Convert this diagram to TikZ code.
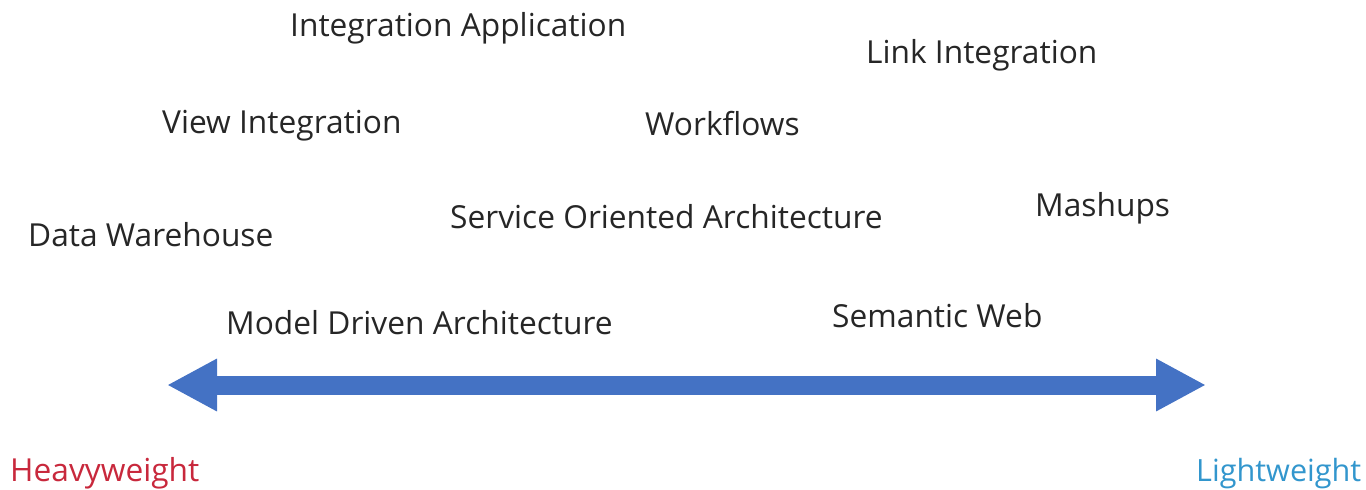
\documentclass[tikz,border=0pt]{standalone}
\usepackage{fontspec}
\setmainfont{Open Sans}
\usetikzlibrary{arrows.meta}
\definecolor{arrowblue}{RGB}{68,114,196}
\definecolor{heavyred}{RGB}{200,40,60}
\definecolor{lightblue}{RGB}{50,150,205}
\tikzset{
  lbl/.style={anchor=base west, inner sep=0pt, font=\fontsize{31.7}{36}\selectfont, text=black!85},
  endlbl/.style={lbl},
}
\begin{document}
\begin{tikzpicture}[x=1pt,y=-1pt]
\useasboundingbox (0,0) rectangle (1366,490);
\node[lbl] (ia) at (290,36) {Integration Application};
\node[lbl] (li) at (866,63) {Link Integration};
\node[lbl] (vi) at (162,133) {View Integration};
\node[lbl] (wf) at (645,135) {Workflows};
\node[lbl] (dw) at (28,246) {Data Warehouse};
\node[lbl] (soa) at (450,228) {Service Oriented Architecture};
\node[lbl] (mu) at (1035,216) {Mashups};
\node[lbl] (mda) at (226,334) {Model Driven Architecture};
\node[lbl] (sw) at (832,327) {Semantic Web};
\node[endlbl, text=heavyred] (hw) at (10,481) {Heavyweight};
\node[endlbl, text=lightblue, font=\fontsize{30.6}{35}\selectfont] (lw) at (1196,481) {Lightweight};
\coordinate (l) at (167,385);
\coordinate (r) at (1206,385);
\draw[arrowblue, line width=19pt, {Triangle[length=50pt,width=49pt]}-{Triangle[length=50pt,width=49pt]}] (l) -- (r);
\end{tikzpicture}
\end{document}
